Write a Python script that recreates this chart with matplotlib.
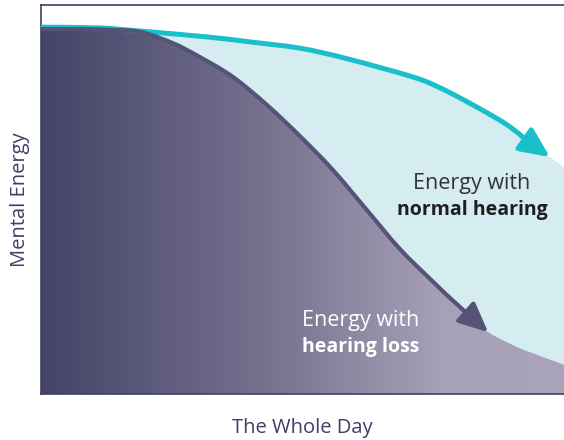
import numpy as np
import matplotlib.pyplot as plt
from matplotlib.path import Path
from matplotlib.patches import PathPatch
from matplotlib.colors import LinearSegmentedColormap

# curves, in axes fraction (x: time of day, y: mental energy)
normal_x = [0.0, 0.113, 0.189, 0.317, 0.400, 0.495, 0.585, 0.711, 0.763, 0.826,
            0.891, 0.935, 0.973]
normal_y = [0.943, 0.941, 0.933, 0.918, 0.905, 0.889, 0.862, 0.815, 0.787, 0.743,
            0.692, 0.645, 0.609]
loss_x = [0.0, 0.075, 0.132, 0.189, 0.252, 0.304, 0.367, 0.432, 0.495, 0.558, 0.623,
          0.686, 0.750, 0.786, 0.820, 0.855]
loss_y = [0.938, 0.938, 0.936, 0.931, 0.902, 0.866, 0.815, 0.743, 0.663, 0.576, 0.473,
          0.373, 0.288, 0.242, 0.201, 0.159]
# fill boundaries continue past the arrow heads to the right edge
normal_tail_x = [1.0]
normal_tail_y = [0.584]
loss_tail_x = [0.910, 0.954, 1.0]
loss_tail_y = [0.121, 0.098, 0.075]

navy = '#3d4066'
teal = '#19bfc9'
purple = '#565378'
light_blue = '#d5edf0'


def smooth_verts(xs, ys):
    # bezier segments through the given points (catmull-rom style handles)
    p = np.column_stack([xs, ys])
    verts = [p[0]]
    codes = [Path.MOVETO]
    for i in range(len(p) - 1):
        p0 = p[i - 1] if i > 0 else p[i]
        p3 = p[i + 2] if i + 2 < len(p) else p[i + 1]
        c1 = p[i] + (p[i + 1] - p0) / 6
        c2 = p[i + 1] - (p3 - p[i]) / 6
        verts += [c1, c2, p[i + 1]]
        codes += [Path.CURVE4] * 3
    return verts, codes


fig = plt.figure(figsize=(5.64, 4.40), dpi=100)
ax = fig.add_axes([41/564, 46/440, 523/564, 389/440])
ax.set_xlim(0, 1)
ax.set_ylim(0, 1)

# light blue area under normal hearing curve
v, c = smooth_verts(normal_x + normal_tail_x, normal_y + normal_tail_y)
v += [(1.0, 0.0), (0.0, 0.0), (0.0, 0.0)]
c += [Path.LINETO, Path.LINETO, Path.CLOSEPOLY]
ax.add_patch(PathPatch(Path(v, c), facecolor=light_blue, edgecolor='none', zorder=1))

# purple gradient area under hearing loss curve
v, c = smooth_verts(loss_x + loss_tail_x, loss_y + loss_tail_y)
v += [(1.0, 0.0), (0.0, 0.0), (0.0, 0.0)]
c += [Path.LINETO, Path.LINETO, Path.CLOSEPOLY]
clip = PathPatch(Path(v, c), facecolor='none', edgecolor='none')
ax.add_patch(clip)
cmap = LinearSegmentedColormap.from_list('g', [(0, '#434468'), (0.45, '#7a7391'),
                                             (0.77, '#a6a1b6'), (1, '#a9a4b9')])
grad = np.linspace(0, 1, 256).reshape(1, -1)
im = ax.imshow(grad, cmap=cmap, extent=[0, 1, 0, 1], aspect='auto', zorder=2)
im.set_clip_path(clip)

# curves with arrow heads
v, c = smooth_verts(normal_x[:-1], normal_y[:-1])
ax.add_patch(PathPatch(Path(v, c), facecolor='none', edgecolor=teal, lw=3.6,
                       capstyle='butt', zorder=4))
ax.annotate('', xy=(normal_x[-1], normal_y[-1]), xytext=(normal_x[-2], normal_y[-2]),
            arrowprops=dict(arrowstyle='-|>,head_length=1.2,head_width=0.55',
                            mutation_scale=15, color=teal, lw=3.6,
                            shrinkA=0, shrinkB=0), zorder=4)
v, c = smooth_verts(loss_x[:-1], loss_y[:-1])
ax.add_patch(PathPatch(Path(v, c), facecolor='none', edgecolor=purple, lw=3,
                       capstyle='butt', zorder=4))
ax.annotate('', xy=(loss_x[-1], loss_y[-1]), xytext=(loss_x[-2], loss_y[-2]),
            arrowprops=dict(arrowstyle='-|>,head_length=1.2,head_width=0.55',
                            mutation_scale=15, color=purple, lw=3,
                            shrinkA=0, shrinkB=0), zorder=4)

# labels
ax.text(0.824, 0.540, 'Energy with', ha='center', va='center', fontsize=15.5,
        color='#333333', family='Open Sans', zorder=5)
ax.text(0.824, 0.473, 'normal hearing', ha='center', va='center', fontsize=14,
        color='#1e1e1e', family='Open Sans', fontweight='bold', zorder=5)
ax.text(0.611, 0.188, 'Energy with', ha='center', va='center', fontsize=15.5,
        color='white', family='Open Sans', zorder=5)
ax.text(0.611, 0.121, 'hearing loss', ha='center', va='center', fontsize=14,
        color='white', family='Open Sans', fontweight='bold', zorder=5)

ax.set_xlabel('The Whole Day', fontsize=14.5, color=navy, family='Open Sans', labelpad=17)
ax.set_ylabel('Mental Energy', fontsize=14.5, color=navy, family='Open Sans', labelpad=8)
ax.set_xticks([])
ax.set_yticks([])
for s in ['left', 'top', 'bottom']:
    ax.spines[s].set_color(navy)
    ax.spines[s].set_linewidth(1.2)
ax.spines['right'].set_visible(False)

fig.savefig('out.png', dpi=100)
